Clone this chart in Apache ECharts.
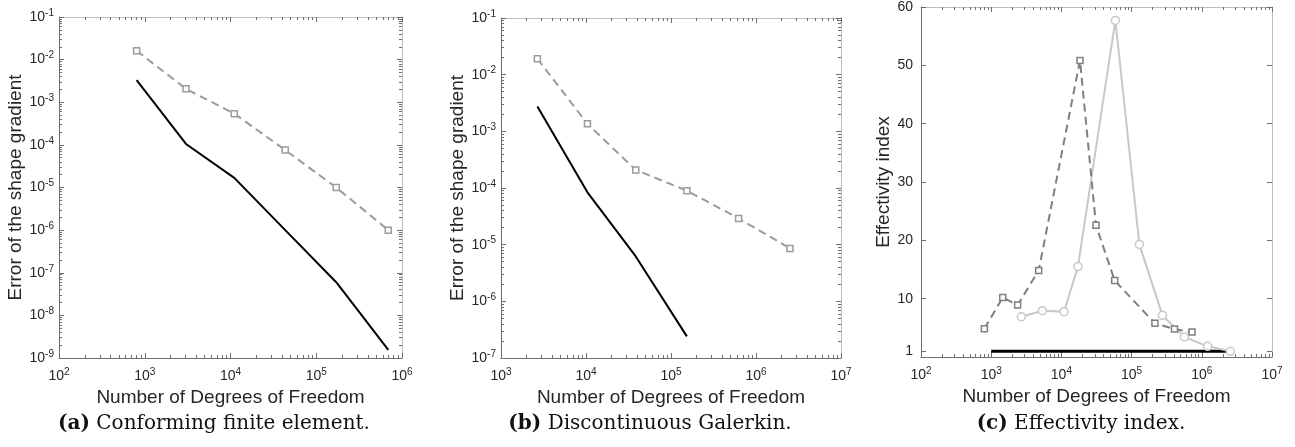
<!DOCTYPE html>
<html>
<head>
<meta charset="utf-8">
<script src="https://cdn.jsdelivr.net/npm/echarts@6/dist/echarts.min.js"></script>
<style>
html,body{margin:0;padding:0;background:#fff;}
#main{width:1295px;height:447px;}
</style>
</head>
<body>
<div id="main"></div>
<script>
// ---- data ----
// (a) conforming finite element
const A_dof = [804, 3027, 11070, 43500, 171000, 692000];
const A_estimator = [0.0161, 2.06e-3, 5.4e-4, 7.55e-5, 1.0e-5, 1.0e-6];
const A_error = [3.3e-3, 1.05e-4, 1.68e-5, 1.0e-6, 6.0e-8, 1.55e-9];
// (b) discontinuous Galerkin
const B_dof = [2680, 10400, 38500, 153700, 624000, 2510000];
const B_estimator = [0.0191, 1.36e-3, 2.08e-4, 8.97e-5, 2.91e-5, 8.6e-6];
const B_error_dof = [2680, 10400, 38500, 153700];
const B_error = [2.75e-3, 8.4e-5, 6.2e-6, 2.41e-7];
// (c) effectivity index
const C_fe_dof = [800, 1460, 2380, 4750, 18400, 31100, 57400, 215000, 408000, 725000];
const C_fe_eff = [4.86, 10.2, 8.9, 14.85, 50.85, 22.6, 13.1, 5.77, 4.8, 4.29];
const C_dg_dof = [2690, 5360, 10900, 17200, 58700, 129000, 275000, 565000, 1210000, 2550000];
const C_dg_eff = [6.9, 7.94, 7.77, 15.5, 57.7, 19.3, 7.14, 3.43, 1.83, 0.97];
const C_ref_dof = [1000, 2240000];
const C_ref_eff = [1, 1];
// axis ranges / tick labels
const A_xRange = [2, 6], A_yRange = [-9, -1];
const B_xRange = [3, 7], B_yRange = [-7, -1];
const C_xRange = [2, 7];
const C_yTicks = [1, 10, 20, 30, 40, 50, 60];
const xName = 'Number of Degrees of Freedom';
const yNameErr = 'Error of the shape gradient';
const yNameEff = 'Effectivity index';
const captions = [['(a)', 'Conforming finite element.'], ['(b)', 'Discontinuous Galerkin.'], ['(c)', 'Effectivity index.']];

const SANS = '"Liberation Sans", Arial, Helvetica, sans-serif';
const SERIF = '"DejaVu Serif", "Liberation Serif", serif';
const TXT = '#262626';
const DARK_LINE = '#6e6e6e';
const LIGHT_LINE = '#bdbdbd';

function zip(xs, ys) { return xs.map((x, i) => [x, ys[i]]); }
function decades(r) { const o = []; for (let e = r[0]; e <= r[1]; e++) o.push(Math.pow(10, e)); return o; }
function minors(r) { const o = []; for (let e = r[0]; e < r[1]; e++) for (let k = 2; k <= 9; k++) o.push(k * Math.pow(10, e)); return o; }
function powLabel(v) {
  const e = Math.round(Math.log10(v));
  return '{b|10}{s|' + e + '}';
}
const powRich = {
  b: { fontSize: 14, fontFamily: SANS, color: TXT },
  s: { fontSize: 10, fontFamily: SANS, color: TXT, padding: [0, 0, 8, 0] }
};

function logAxisSet(dim, gi, range, opts) {
  const isX = dim === 'x';
  const posMain = isX ? 'bottom' : 'left';
  const posOpp = isX ? 'top' : 'right';
  const base = {
    type: 'log', logBase: 10, gridIndex: gi,
    min: Math.pow(10, range[0]), max: Math.pow(10, range[1]),
    splitLine: { show: false }, minorTick: { show: false }, minorSplitLine: { show: false },
    offset: 0
  };
  const maj = decades(range), mnr = minors(range);
  const main = Object.assign({}, base, {
    position: posMain,
    axisLine: { show: true, onZero: false, lineStyle: { color: DARK_LINE, width: 1 } },
    axisTick: { show: true, inside: true, length: 5, customValues: maj, lineStyle: { color: DARK_LINE } },
    axisLabel: { show: true, customValues: maj, formatter: powLabel, rich: powRich, margin: isX ? 9 : 5, color: TXT, fontSize: 14, fontFamily: SANS },
    name: opts.name, nameLocation: 'middle', nameGap: opts.nameGap,
    nameTextStyle: { fontSize: 19, fontFamily: SANS, color: TXT }
  });
  const mainMinor = Object.assign({}, base, {
    position: posMain,
    axisLine: { show: false, onZero: false },
    axisTick: { show: true, inside: true, length: 3, customValues: mnr, lineStyle: { color: DARK_LINE } },
    axisLabel: { show: false }
  });
  const opp = Object.assign({}, base, {
    position: posOpp,
    axisLine: { show: true, onZero: false, lineStyle: { color: LIGHT_LINE, width: 1 } },
    axisTick: { show: true, inside: true, length: 5, customValues: maj, lineStyle: { color: DARK_LINE } },
    axisLabel: { show: false }
  });
  const oppMinor = Object.assign({}, base, {
    position: posOpp,
    axisLine: { show: false, onZero: false },
    axisTick: { show: true, inside: true, length: 3, customValues: mnr, lineStyle: { color: DARK_LINE } },
    axisLabel: { show: false }
  });
  return [main, mainMinor, opp, oppMinor];
}

function linAxisSet(gi, ticks, opts) {
  const base = { type: 'value', gridIndex: gi, min: 0, max: 60, splitLine: { show: false }, offset: 0 };
  const main = Object.assign({}, base, {
    position: 'left',
    axisLine: { show: true, onZero: false, lineStyle: { color: DARK_LINE } },
    axisTick: { show: true, inside: true, length: 5, customValues: ticks, lineStyle: { color: DARK_LINE } },
    axisLabel: { show: true, customValues: ticks, fontSize: 14, fontFamily: SANS, color: TXT, margin: 8 },
    name: opts.name, nameLocation: 'middle', nameGap: opts.nameGap,
    nameTextStyle: { fontSize: 19, fontFamily: SANS, color: TXT }
  });
  const opp = Object.assign({}, base, {
    position: 'right',
    axisLine: { show: true, onZero: false, lineStyle: { color: LIGHT_LINE } },
    axisTick: { show: true, inside: true, length: 5, customValues: ticks, lineStyle: { color: DARK_LINE } },
    axisLabel: { show: false }
  });
  return [main, opp];
}

const grids = [
  { left: 59, top: 17, width: 343, height: 341 },
  { left: 501, top: 18, width: 340, height: 340 },
  { left: 921, top: 7, width: 351, height: 350 }
].map(g => Object.assign({ outerBoundsMode: 'none', containLabel: false }, g));

const xAxes = [].concat(
  logAxisSet('x', 0, A_xRange, { name: xName, nameGap: 29 }),   // 0..3
  logAxisSet('x', 1, B_xRange, { name: xName, nameGap: 29 }),   // 4..7
  logAxisSet('x', 2, C_xRange, { name: xName, nameGap: 29 })    // 8..11
);
const yAxes = [].concat(
  logAxisSet('y', 0, A_yRange, { name: yNameErr, nameGap: 34 }), // 0..3
  logAxisSet('y', 1, B_yRange, { name: yNameErr, nameGap: 34 }), // 4..7
  linAxisSet(2, C_yTicks, { name: yNameEff, nameGap: 26 })        // 8..9
);

const dashGray = '#9b9b9b';
const dashDark = '#7f7f7f';
const lightGray = '#c8c8c8';

function line(xi, yi, data, color, dashed, width, symbol, size) {
  return {
    type: 'line', xAxisIndex: xi, yAxisIndex: yi, data: data,
    lineStyle: { color: color, width: width, type: dashed ? [8, 5] : 'solid' },
    symbol: symbol || 'none', symbolSize: size || 0, showSymbol: !!symbol,
    itemStyle: { color: '#fff', borderColor: color, borderWidth: 1.5 },
    animation: false, silent: true, z: dashed ? 3 : 2
  };
}

const series = [
  line(0, 0, zip(A_dof, A_error), '#000', false, 2),
  line(0, 0, zip(A_dof, A_estimator), dashGray, true, 2, 'rect', 6),
  line(4, 4, zip(B_error_dof, B_error), '#000', false, 2),
  line(4, 4, zip(B_dof, B_estimator), dashGray, true, 2, 'rect', 6),
  line(8, 8, zip(C_ref_dof, C_ref_eff), '#000', false, 3),
  line(8, 8, zip(C_dg_dof, C_dg_eff), lightGray, false, 2, 'circle', 8),
  line(8, 8, zip(C_fe_dof, C_fe_eff), dashDark, true, 2, 'rect', 6)
];

const capPos = [[214, 424], [650, 424], [1081, 424]];
const graphic = captions.map((c, i) => ({
  type: 'text', x: capPos[i][0], y: capPos[i][1],
  style: {
    text: '{b|' + c[0] + '} ' + c[1],
    align: 'center', verticalAlign: 'middle',
    fontFamily: SERIF, fontSize: 20, fill: '#111',
    rich: { b: { fontFamily: SERIF, fontSize: 20, fontWeight: 'bold', fill: '#111' } }
  }
}));

const chart = echarts.init(document.getElementById('main'), null, { renderer: 'canvas' });
chart.setOption({
  backgroundColor: '#fff',
  animation: false,
  grid: grids,
  xAxis: xAxes,
  yAxis: yAxes,
  series: series,
  graphic: graphic
});
</script>
</body>
</html>
